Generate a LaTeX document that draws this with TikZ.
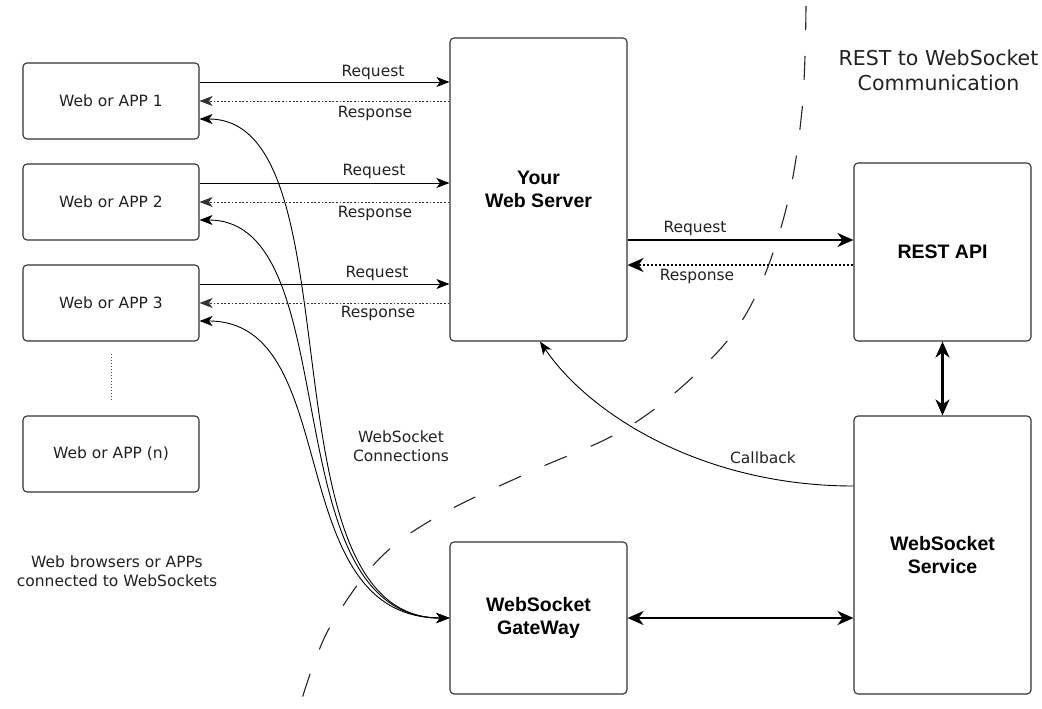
\documentclass[tikz,border=0pt]{standalone}
\usepackage{fontspec}
\setmainfont{DejaVu Sans}
\newfontfamily\hb{Liberation Sans}
\usetikzlibrary{arrows.meta}
\definecolor{ink}{HTML}{222222}
\definecolor{edge}{HTML}{333333}
\tikzset{
  box/.style={draw=edge, line width=1.1pt, rounded corners=4pt, inner sep=0pt, align=center, text=black},
  appbox/.style={box, minimum width=176pt, minimum height=76pt, font=\fontsize{15.5}{19}\selectfont, text=ink},
  bigbox/.style={box, minimum width=177pt, font=\hb\bfseries\fontsize{19.5}{23}\selectfont},
  lbl/.style={inner sep=0pt, align=center, text=ink, font=\fontsize{15.5}{19}\selectfont},
  thin/.style={line width=0.9pt, draw=black},
  tipA/.style={-{Stealth[length=13pt,width=10pt,inset=3.5pt]}},
  tipB/.style={-{Stealth[length=16pt,width=14pt,inset=5pt]}},
  tipBB/.style={{Stealth[length=16pt,width=14pt,inset=5pt]}-{Stealth[length=16pt,width=14pt,inset=5pt]}},
  tipAA/.style={{Stealth[length=13pt,width=10pt,inset=3.5pt]}-{Stealth[length=13pt,width=10pt,inset=3.5pt]}},
  dots/.style={dash pattern=on 1.8pt off 1.8pt, draw=black!80},
  thick2/.style={line width=2.5pt, draw=black},
  wsline/.style={line width=0.9pt, draw=black},
}
\begin{document}
\begin{tikzpicture}[x=1pt,y=-1pt]
\useasboundingbox[fill=white] (0,0) rectangle (1042,709);

% dashed boundary
\draw[line width=1.1pt, draw=black!85, dash pattern=on 24pt off 26pt]
  plot[smooth, tension=0.6] coordinates {(806,6) (802,110) (785,213) (750,307) (700,370) (625,429) (530,472) (440,515) (380,558) (334,620) (313,666) (298,712)};

% client boxes
\node[appbox] (app1) at (111,101) {Web or APP 1};
\node[appbox] (app2) at (111,202) {Web or APP 2};
\node[appbox] (app3) at (111,303) {Web or APP 3};
\node[appbox] (appn) at (111,454) {Web or APP (n)};

% servers
\node[bigbox, minimum height=303pt] (web) at (538.5,189.5) {Your\\Web Server};
\node[bigbox, minimum height=178pt] (rest) at (942.5,252) {REST API};
\node[bigbox, minimum height=278pt] (wss) at (942.5,555) {WebSocket\\Service};
\node[bigbox, minimum height=152pt] (gw) at (538.5,618) {WebSocket\\GateWay};

% request / response
\foreach \a in {app1,app2,app3}{
  \draw[thin, tipA] ([yshift=19pt]\a.east) -- ([yshift=19pt]\a.east -| web.west);
  \draw[thin, dots, tipA] (\a.east -| web.west) -- (\a.east);
}
\node[lbl] (rq1) at (373,72) {Request};
\node[lbl] (rs1) at (375,113) {Response};
\node[lbl] (rq2) at (374,171) {Request};
\node[lbl] (rs2) at (375,213) {Response};
\node[lbl] (rq3) at (377,273) {Request};
\node[lbl] (rs3) at (378,313) {Response};

% websocket connections
\draw[wsline, tipAA] ([yshift=-18pt]app1.east) .. controls +(161,0) and +(-192,0) .. (gw.west);
\draw[wsline, tipAA] ([yshift=-18pt]app2.east) .. controls +(150,0) and +(-180,0) .. (gw.west);
\draw[wsline, tipAA] ([yshift=-18pt]app3.east) .. controls +(146,0) and +(-170,0) .. (gw.west);
\node[lbl] (wsc) at (401,446.5) {WebSocket\\Connections};

% dotted between app3 and appn
\draw[line width=1pt, draw=black!70, dash pattern=on 1.5pt off 1.5pt] ([yshift=-12pt]app3.south) -- ([yshift=15pt]appn.north);

\node[lbl] (note) at (117,571.5) {Web browsers or APPs\\connected to WebSockets};

% web server <-> REST
\draw[thick2, tipB] ([yshift=-50.5pt]web.east) -- ([yshift=-50.5pt]web.east -| rest.west);
\draw[thick2, dash pattern=on 2.4pt off 1.6pt, tipB] ([yshift=-75.5pt]web.east -| rest.west) -- ([yshift=-75.5pt]web.east);
\node[lbl] (rq4) at (695,228) {Request};
\node[lbl] (rs4) at (697,276) {Response};

% REST <-> WS service
\draw[thick2, tipBB] (rest.south) -- (wss.north);
% gateway <-> service
\draw[thick2, tipBB] (gw.east) -- (gw.east -| wss.west);

% callback
\draw[wsline, tipA] ([yshift=69pt]wss.west) .. controls +(-150,0) and (590,415) .. ([xshift=1.5pt]web.south);
\node[lbl] (cb) at (763,458) {Callback};

% title
\node[inner sep=0pt, align=center, text=ink, font=\fontsize{20.5}{25}\selectfont] (title) at (938.5,70) {REST to WebSocket\\Communication};
\end{tikzpicture}
\end{document}
